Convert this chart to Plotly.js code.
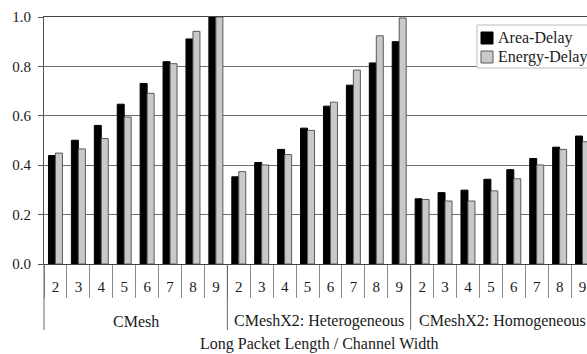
<!DOCTYPE html>
<html>
<head>
<meta charset="utf-8">
<script src="https://cdn.plot.ly/plotly-3.0.1.min.js"></script>
<style>
html,body{margin:0;padding:0;overflow:hidden;background:#fff;}
#chart{width:600px;height:354px;}
</style>
</head>
<body>
<div id="chart"></div>
<script>
// Data
var groups = ["CMesh", "CMeshX2: Heterogeneous", "CMeshX2: Homogeneous"];
var widths = ["2", "3", "4", "5", "6", "7", "8", "9"];
var areaDelayCMesh = [0.439, 0.501, 0.561, 0.647, 0.731, 0.819, 0.911, 1.0];
var energyDelayCMesh = [0.449, 0.466, 0.508, 0.595, 0.691, 0.811, 0.942, 1.0];
var areaDelayHet = [0.353, 0.411, 0.464, 0.550, 0.639, 0.724, 0.814, 0.900];
var energyDelayHet = [0.374, 0.401, 0.443, 0.541, 0.655, 0.785, 0.924, 0.996];
var areaDelayHom = [0.264, 0.289, 0.299, 0.343, 0.382, 0.427, 0.473, 0.518];
var energyDelayHom = [0.261, 0.255, 0.255, 0.296, 0.345, 0.401, 0.464, 0.495];
var seriesNames = ["Area-Delay", "Energy-Delay"];
var xTitle = "Long Packet Length / Channel Width";

var keys = [], ticktext = [];
groups.forEach(function(g){ widths.forEach(function(w){ keys.push(g + "|" + w); ticktext.push(w); }); });
var areaAll = areaDelayCMesh.concat(areaDelayHet, areaDelayHom);
var energyAll = energyDelayCMesh.concat(energyDelayHet, energyDelayHom);

var FONT = "'Liberation Serif', 'Times New Roman', serif";
var nCat = keys.length;

var traces = [
  {type: "bar", x: keys, y: areaAll, name: seriesNames[0],
   marker: {color: "#000000", line: {color: "#000000", width: 1}}},
  {type: "bar", x: keys, y: energyAll, name: seriesNames[1],
   marker: {color: "#c9c9c9", line: {color: "#5a5a5a", width: 1}}}
];

var shapes = [], annotations = [];
// group dividers
for (var g = 0; g <= groups.length; g++) {
  var px = g * widths.length / nCat;
  shapes.push({type: "line", xref: "paper", yref: "paper", x0: px, x1: px, y0: 0, y1: -66/247,
    line: {color: "#666666", width: 1}});
}
// group labels
groups.forEach(function(gname, gi){
  annotations.push({xref: "paper", yref: "paper", x: (gi * widths.length + widths.length/2) / nCat, y: 0,
    yshift: -57, xanchor: "center", yanchor: "middle", text: gname, showarrow: false,
    font: {family: FONT, size: 16, color: "#1a1a1a"}});
});
// axis title
annotations.push({xref: "paper", yref: "paper", x: 0.5, y: 0, yshift: -80, xanchor: "center", yanchor: "middle",
  text: xTitle, showarrow: false, font: {family: FONT, size: 16, color: "#1a1a1a"}});

// manual legend
function px2x(p){ return (p - 44) / 550; }
function py2y(p){ return (264 - p) / 247; }
shapes.push({type: "rect", xref: "paper", yref: "paper", x0: px2x(477), x1: px2x(593), y0: py2y(68), y1: py2y(25),
  fillcolor: "#ffffff", line: {color: "#bdbdbd", width: 1}, layer: "above"});
var legColors = [["#000000", "#000000"], ["#c9c9c9", "#5a5a5a"]];
var legY = [38, 57];
seriesNames.forEach(function(n, i){
  shapes.push({type: "rect", xref: "paper", yref: "paper", x0: px2x(481), x1: px2x(493), y0: py2y(legY[i] + 6), y1: py2y(legY[i] - 6),
    fillcolor: legColors[i][0], line: {color: legColors[i][1], width: 1}, layer: "above"});
  annotations.push({xref: "paper", yref: "paper", x: px2x(496), y: py2y(legY[i]), xanchor: "left", yanchor: "middle",
    text: n, showarrow: false, font: {family: FONT, size: 16, color: "#1a1a1a"}});
});

var layout = {
  width: 600, height: 354,
  margin: {l: 44, r: 6, t: 17, b: 90},
  paper_bgcolor: "#ffffff", plot_bgcolor: "#ffffff",
  showlegend: false,
  barmode: "group", bargap: 0.39, bargroupgap: 0,
  font: {family: FONT, size: 15, color: "#1a1a1a"},
  xaxis: {type: "category", categoryorder: "array", categoryarray: keys,
    tickmode: "array", tickvals: keys, ticktext: ticktext,
    tickson: "boundaries", ticks: "outside", ticklen: 33, tickwidth: 1, tickcolor: "#8a8a8a",
    ticklabelstandoff: 9,
    showline: true, linecolor: "#444444", linewidth: 1, mirror: true,
    showgrid: false, zeroline: false,
    tickfont: {family: FONT, size: 15, color: "#1a1a1a"}},
  yaxis: {range: [0, 1], dtick: 0.2, tick0: 0, tickformat: ".1f",
    showgrid: true, gridcolor: "#6e6e6e", gridwidth: 1, zeroline: false,
    showline: true, linecolor: "#555555", linewidth: 1,
    ticks: "outside", ticklen: 5, tickcolor: "#555555", ticklabelstandoff: 4,
    tickfont: {family: FONT, size: 15, color: "#1a1a1a"}},
  shapes: shapes,
  annotations: annotations
};

Plotly.newPlot("chart", traces, layout, {displayModeBar: false, staticPlot: true});
</script>
</body>
</html>
